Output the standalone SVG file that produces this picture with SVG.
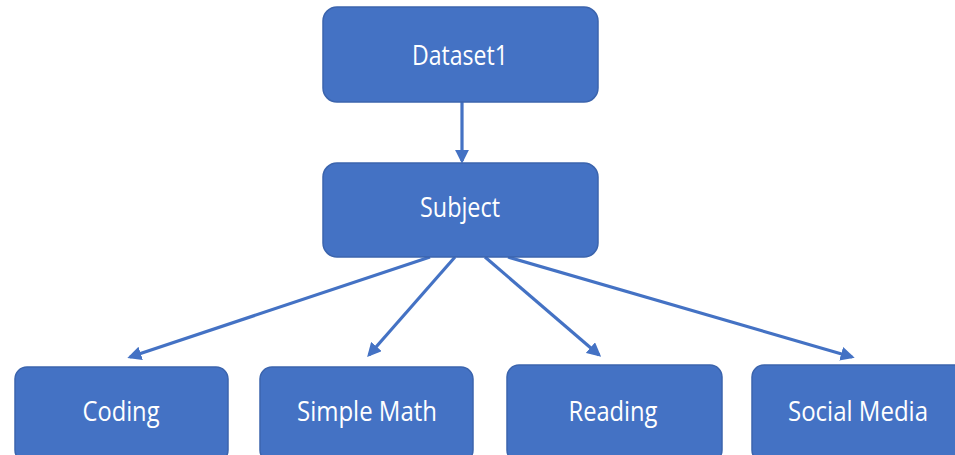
<svg xmlns="http://www.w3.org/2000/svg" width="955" height="455" viewBox="0 0 955 455">
  <style>
    .box { fill: #4472C4; stroke: #3B64AD; stroke-width: 1.5; }
    .label { fill: #FFFFFF; font-family: "Open Sans", "Noto Sans", sans-serif; font-size: 27px; text-anchor: middle; }
    .edge { stroke: #4472C4; stroke-width: 3.2; fill: none; marker-end: url(#head); }
  </style>
  <defs>
    <marker id="head" viewBox="0 0 10 10" refX="8" refY="5" markerWidth="4.4" markerHeight="4.4" orient="auto" markerUnits="strokeWidth">
      <path d="M0,0 L10,5 L0,10 z" fill="#4472C4"/>
    </marker>
  </defs>
  <rect width="955" height="455" fill="#FFFFFF"/>

  <g id="connectors">
    <line class="edge" x1="462" y1="102" x2="462" y2="161"/>
    <line class="edge" x1="430" y1="257" x2="130" y2="357"/>
    <line class="edge" x1="455" y1="257" x2="369" y2="355"/>
    <line class="edge" x1="485" y1="257" x2="599" y2="355"/>
    <line class="edge" x1="508" y1="257" x2="852" y2="357"/>
  </g>

  <g id="dataset1">
    <rect class="box" x="323" y="7" width="275" height="95" rx="14"/>
    <text class="label" x="460" y="65" textLength="96" lengthAdjust="spacingAndGlyphs">Dataset1</text>
  </g>
  <g id="subject">
    <rect class="box" x="323" y="163" width="275" height="94" rx="14"/>
    <text class="label" x="460" y="217" textLength="80" lengthAdjust="spacingAndGlyphs">Subject</text>
  </g>
  <g id="coding">
    <rect class="box" x="15" y="367" width="213" height="95" rx="12"/>
    <text class="label" x="121" y="421" textLength="77" lengthAdjust="spacingAndGlyphs">Coding</text>
  </g>
  <g id="simple-math">
    <rect class="box" x="260" y="367" width="213" height="95" rx="12"/>
    <text class="label" x="367" y="421" textLength="140" lengthAdjust="spacingAndGlyphs">Simple Math</text>
  </g>
  <g id="reading">
    <rect class="box" x="507" y="365" width="215" height="97" rx="12"/>
    <text class="label" x="613" y="421" textLength="89" lengthAdjust="spacingAndGlyphs">Reading</text>
  </g>
  <g id="social-media">
    <rect class="box" x="752" y="365" width="215" height="97" rx="12"/>
    <text class="label" x="858" y="421" textLength="140" lengthAdjust="spacingAndGlyphs">Social Media</text>
  </g>
</svg>
